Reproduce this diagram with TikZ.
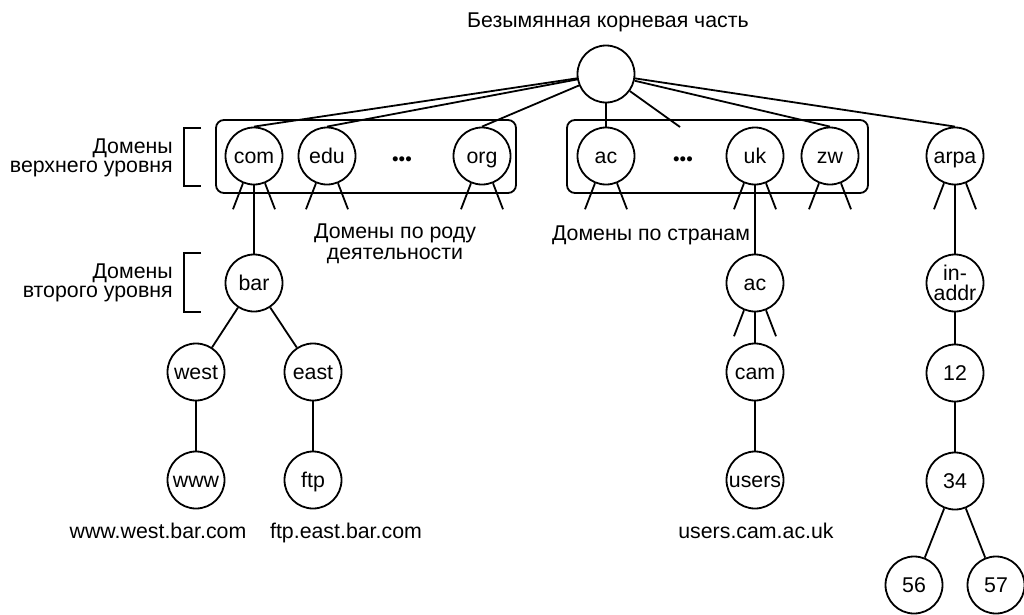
\documentclass[tikz,border=0pt]{standalone}
\usepackage{fontspec}
\setmainfont{Liberation Sans}
\newcommand\forkdown[1]{%
  \draw[link] (#1.-112) -- ++(-10,26);
  \draw[link] (#1.-68) -- ++(10,26);}
\begin{document}
\begin{tikzpicture}[x=0.75pt,y=-0.75pt,
  every node/.style={font=\fontsize{16}{17}\selectfont},
  dnbase/.style={circle,draw,line width=1.35pt,minimum size=42.75pt,inner sep=0pt},
  dn/.style={dnbase,text height=11.4pt,text depth=0.6pt},
  dntwo/.style={dnbase,align=center,font=\fontsize{16}{14.5}\selectfont},
  link/.style={line width=1.35pt},
  grp/.style={draw,line width=1.35pt,rounded corners=6pt},
  lbl/.style={align=center,inner sep=0pt},
  baselbl/.style={anchor=base,inner sep=0pt},
  side/.style={anchor=east,align=right,inner sep=0pt,font=\fontsize{16}{14.6}\selectfont}]
\useasboundingbox (0,0) rectangle (1024,614);

% root
\node[lbl] (title) at (608,22) {Безымянная корневая часть};
\node[dnbase] (root) at (606,74) {};

% top-level domain groups
\draw[grp] (216,120) rectangle (516,193);
\draw[grp] (567,120) rectangle (868,193);

\node[dn] (com) at (254,156) {com};
\node[dn] (edu) at (327,156) {edu};
\node[font=\fontsize{14}{15}\selectfont] (dots1) at (402,161) {•••};
\node[dn] (org) at (482,156) {org};
\node[dn] (ac) at (606,156) {ac};
\node[font=\fontsize{14}{15}\selectfont] (dots2) at (683,161) {•••};
\node[dn] (uk) at (755,156) {uk};
\node[dn] (zw) at (830,156) {zw};
\node[dn] (arpa) at (955,156) {arpa};
\coordinate (dotsend) at (680,127);

% lower levels
\node[dn] (bar) at (254,283) {bar};
\node[dn] (acc) at (755,283) {ac};
\node[dntwo] (inaddr) at (955,283) {in-\\addr};
\node[dn] (west) at (196,372) {west};
\node[dn] (east) at (313,372) {east};
\node[dn] (cam) at (755,372) {cam};
\node[dn] (n12) at (955,373) {12};
\node[dn] (www) at (196,480) {www};
\node[dn] (ftp) at (313,480) {ftp};
\node[dn] (users) at (755,480) {users};
\node[dn] (n34) at (955,481) {34};
\node[dn] (n56) at (914,585) {56};
\node[dn] (n57) at (996,585) {57};

% labels
\node[side] (lvl1) at (173,158) {Домены\\верхнего уровня};
\node[side] (lvl2) at (173,283) {Домены\\второго уровня};
\node[lbl,font=\fontsize{16}{15.5}\selectfont] (gen) at (395,244) {Домены по роду\\деятельности};
\node[baselbl] (ctry) at (651,240) {Домены по странам};
\node[baselbl] (n1) at (158,538) {www.west.bar.com};
\node[baselbl] (n2) at (346,538) {ftp.east.bar.com};
\node[baselbl] (n3) at (756,538) {users.cam.ac.uk};

% brackets
\draw[link] (201,128) -- (184,128) -- (184,186) -- (201,186);
\draw[link] (201,253) -- (184,253) -- (184,312) -- (201,312);

% root links
\foreach \t in {com,edu,org,ac,zw,arpa}
  {\draw[link] (root) -- (\t.north);}
\draw[link] (root) -- (dotsend);

% partial subtrees
\foreach \t in {com,edu,org,ac,uk,zw,arpa,acc}
  {\forkdown{\t}}

% tree edges
\draw[link] (com) -- (bar);
\draw[link] (uk) -- (acc);
\draw[link] (arpa) -- (inaddr);
\draw[link] (bar) -- (west);
\draw[link] (bar) -- (east);
\draw[link] (west) -- (www);
\draw[link] (east) -- (ftp);
\draw[link] (acc) -- (cam);
\draw[link] (cam) -- (users);
\draw[link] (inaddr) -- (n12);
\draw[link] (n12) -- (n34);
\draw[link] (n34) -- (n56);
\draw[link] (n34) -- (n57);
\end{tikzpicture}
\end{document}
